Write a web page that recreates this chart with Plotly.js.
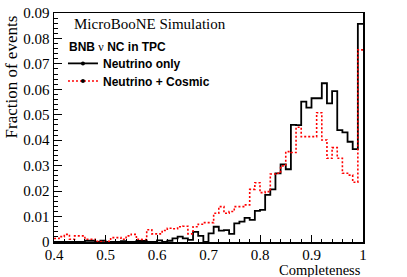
<!DOCTYPE html>
<html>
<head>
<meta charset="utf-8">
<script src="https://cdn.plot.ly/plotly-3.0.1.min.js"></script>
<style>html,body{margin:0;padding:0;background:#fff;}#chart{width:407px;height:277px;}</style>
</head>
<body>
<div id="chart"></div>
<script>
// Bin edges of completeness (0.40 ... 1.00)
const binEdges = [0.40,0.41,0.42,0.43,0.44,0.45,0.46,0.47,0.48,0.49,
  0.50,0.51,0.52,0.53,0.54,0.55,0.56,0.57,0.58,0.59,
  0.60,0.61,0.62,0.63,0.64,0.65,0.66,0.67,0.68,0.69,
  0.70,0.71,0.72,0.73,0.74,0.75,0.76,0.77,0.78,0.79,
  0.80,0.81,0.82,0.83,0.84,0.85,0.86,0.87,0.88,0.89,
  0.90,0.91,0.92,0.93,0.94,0.95,0.96,0.97,0.98,0.99,1.00];

// Fraction of events, "Neutrino only"
const neutrinoOnly = [0,0,0,0,0,0,0.0005,0.0005,0,0.0005,
  0,0,0,0.0003,0,0,0.0004,0.0004,0,0,
  0.0006,0,0.0005,0.0014,0.0021,0.0014,0.0008,0.0040,0.0024,0,
  0.0034,0.0060,0.0045,0.0047,0.0032,0.0073,0.0080,0.0095,0.0087,0.0122,
  0.0126,0.0185,0.0207,0.0270,0.0305,0.0286,0.0460,0.0459,0.0552,0.0528,
  0.0565,0.0565,0.0624,0.0545,0.0593,0.0440,0.0431,0.0394,0.0365,0.0857];

// Fraction of events, "Neutrino + Cosmic"
const neutrinoCosmic = [0.0014,0.0021,0.0030,0.0011,0.0024,0.0024,0.0011,0.0011,0.0003,0.0002,
  0.0003,0.0017,0.0017,0.0011,0.0024,0.0030,0.0011,0.0010,0.0048,0.0032,
  0.0032,0.0045,0.0054,0.0052,0.0060,0.0062,0.0032,0.0060,0.0070,0.0076,
  0.0076,0.0113,0.0139,0.0113,0.0120,0.0139,0.0139,0.0146,0.0207,0.0233,
  0.0194,0.0198,0.0267,0.0270,0.0299,0.0355,0.0352,0.0451,0.0414,0.0414,
  0.0414,0.0508,0.0401,0.0329,0.0371,0.0329,0.0270,0.0263,0.0235,0.0755];

const seriesNames = ["Neutrino only", "Neutrino + Cosmic"];
const xTickVals = [0.4,0.5,0.6,0.7,0.8,0.9,1.0];
const yTickVals = [0,0.01,0.02,0.03,0.04,0.05,0.06,0.07,0.08,0.09];

function stepY(vals){ return vals.concat([vals[vals.length-1]]); }

const serif = "Liberation Serif, Times New Roman, serif";
const sans = "Liberation Sans, Arial, sans-serif";

const traces = [
  {x: binEdges, y: stepY(neutrinoOnly), type:'scatter', mode:'lines',
   line:{shape:'hv', color:'#000', width:1.8}, showlegend:false, hoverinfo:'skip'},
  {x: binEdges, y: stepY(neutrinoCosmic), type:'scatter', mode:'lines',
   line:{shape:'hv', color:'#ff0000', width:1.6, dash:'2px,2px'}, showlegend:false, hoverinfo:'skip'},
  {x:[null], y:[null], type:'scatter', mode:'lines+markers', name: seriesNames[0], legend:'legend',
   line:{color:'#000', width:1.8}, marker:{color:'#000', size:4}},
  {x:[null], y:[null], type:'scatter', mode:'lines+markers', name: seriesNames[1], legend:'legend2',
   line:{color:'#ff0000', width:1.6, dash:'2px,2px'}, marker:{color:'#000', size:4}}
];

const legendFont = {family:sans, size:12, color:'#000', weight:'bold'};

const layout = {
  width:407, height:277,
  margin:{l:54, r:44, t:13, b:35, pad:0},
  paper_bgcolor:'#fff', plot_bgcolor:'#fff',
  xaxis:{range:[0.4,1.0], tickvals:xTickVals, ticktext:xTickVals.map(v=>String(+v.toFixed(1))),
    ticks:'inside', ticklen:7, tickwidth:1, tickcolor:'#000', ticklabelstandoff:-2,
    minor:{ticks:'inside', ticklen:3.5, dtick:0.02, tickcolor:'#000', tickwidth:1, showgrid:false},
    showline:true, linecolor:'#000', linewidth:1.5, mirror:true,
    showgrid:false, zeroline:false, tickfont:{family:serif, size:15, color:'#000'}},
  yaxis:{range:[0,0.09], tickvals:yTickVals, ticktext:yTickVals.map(v=>String(+v.toFixed(2))),
    ticks:'inside', ticklen:8, tickwidth:1, tickcolor:'#000',
    minor:{ticks:'inside', ticklen:4, dtick:0.002, tickcolor:'#000', tickwidth:1, showgrid:false},
    showline:true, linecolor:'#000', linewidth:1.5, mirror:true,
    showgrid:false, zeroline:false, tickfont:{family:serif, size:15, color:'#000'}},
  showlegend:true,
  legend:{x:0.029, y:0.780, xanchor:'left', yanchor:'middle', bgcolor:'rgba(0,0,0,0)', font:legendFont},
  legend2:{x:0.029, y:0.703, xanchor:'left', yanchor:'middle', bgcolor:'rgba(0,0,0,0)', font:legendFont},
  annotations:[
    {text:'MicroBooNE Simulation', xref:'paper', yref:'paper', x:0.058, y:0.950,
     xanchor:'left', yanchor:'middle', showarrow:false, font:{family:serif, size:15, color:'#000'}},
    {text:'<b>BNB</b> <span style="font-family:Liberation Serif">ν</span> <b>NC in TPC</b>', xref:'paper', yref:'paper', x:0.042, y:0.853,
     xanchor:'left', yanchor:'middle', showarrow:false, font:{family:sans, size:12, color:'#000'}},
    {text:'Fraction of events', xref:'paper', yref:'paper', x:-0.136, y:1.0, textangle:-90,
     xanchor:'center', yanchor:'top', showarrow:false, font:{family:serif, size:17, color:'#000'}},
    {text:'Completeness', xref:'paper', yref:'paper', x:1.0, y:-0.121,
     xanchor:'right', yanchor:'middle', showarrow:false, font:{family:serif, size:14.5, color:'#000'}}
  ]
};

Plotly.newPlot('chart', traces, layout, {staticPlot:true, displayModeBar:false});
</script>
</body>
</html>
